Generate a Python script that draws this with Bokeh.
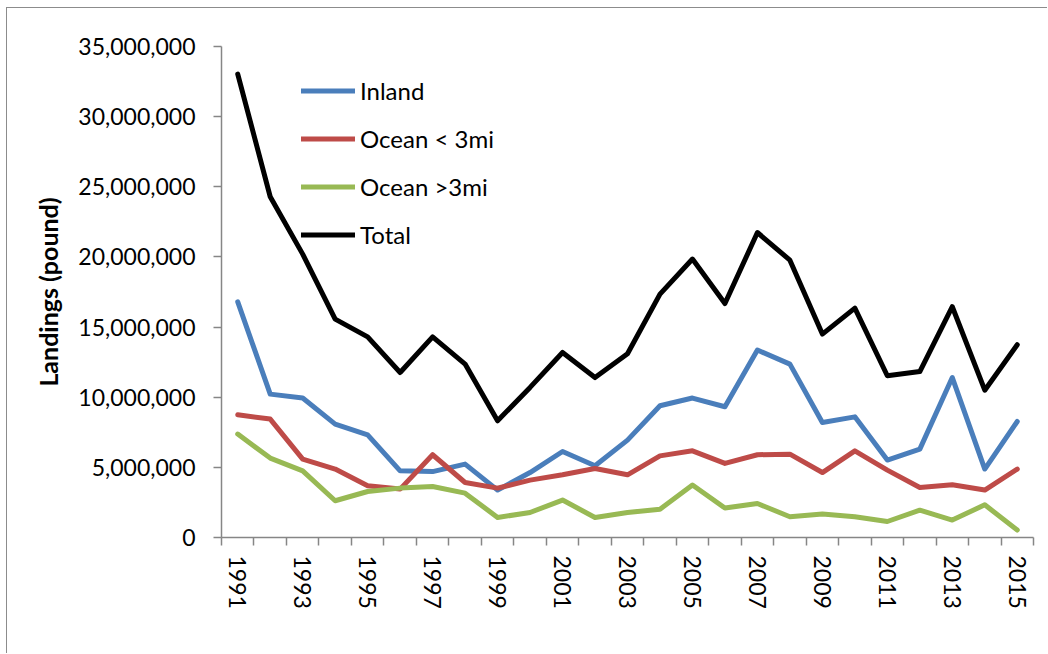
from bokeh.plotting import figure
from bokeh.models import Range1d, FixedTicker, NumeralTickFormatter, Legend, LegendItem
from bokeh.embed import file_html
from bokeh.resources import INLINE

years = list(range(1991, 2016))
inland = [16.8, 10.22, 9.94, 8.08, 7.32, 4.75, 4.70, 5.23, 3.38, 4.63, 6.13, 5.11, 6.94,
          9.39, 9.94, 9.32, 13.36, 12.36, 8.20, 8.60, 5.52, 6.30, 11.40, 4.88, 8.27]
ocean_lt3 = [8.75, 8.44, 5.59, 4.88, 3.69, 3.45, 5.90, 3.92, 3.52, 4.09, 4.47, 4.92, 4.47,
             5.82, 6.18, 5.28, 5.90, 5.94, 4.63, 6.18, 4.80, 3.56, 3.76, 3.38, 4.88]
ocean_gt3 = [7.37, 5.66, 4.75, 2.62, 3.28, 3.52, 3.64, 3.16, 1.43, 1.78, 2.67, 1.43, 1.78,
             2.02, 3.74, 2.10, 2.42, 1.48, 1.67, 1.48, 1.14, 1.95, 1.24, 2.33, 0.53]
total = [33.03, 24.29, 20.20, 15.57, 14.30, 11.76, 14.30, 12.36, 8.32, 10.70, 13.19, 11.40, 13.10,
         17.35, 19.85, 16.68, 21.74, 19.77, 14.50, 16.35, 11.53, 11.83, 16.45, 10.50, 13.74]
series_names = ["Inland", "Ocean < 3mi", "Ocean >3mi", "Total"]
series_colors = ["#4A7EBB", "#BE4B48", "#98B954", "#000000"]
y_ticks = [0, 5e6, 10e6, 15e6, 20e6, 25e6, 30e6, 35e6]
x_label_years = list(range(1991, 2016, 2))

FONT = "Lato"
AX = "#868686"

p = figure(width=1041, height=646, output_backend="svg", toolbar_location=None,
           x_range=Range1d(years[0] - 0.5, years[-1] + 0.5), y_range=Range1d(0, 35e6),
           min_border_left=214, min_border_right=15, min_border_top=38, min_border_bottom=117)
p.styles = {"margin": "7px 0 0 6px", "border-top": "1px solid #8c8c8c",
            "border-left": "1px solid #8c8c8c"}
p.outline_line_color = None
p.xgrid.visible = False
p.ygrid.visible = False
p.background_fill_color = "white"
p.border_fill_color = "white"

renderers = []
for vals, color in zip([inland, ocean_lt3, ocean_gt3, total], series_colors):
    r = p.line(years, [v * 1e6 for v in vals], line_color=color, line_width=5,
               line_join="round", line_cap="round")
    renderers.append(r)

# y axis
ya = p.yaxis[0]
ya.ticker = FixedTicker(ticks=y_ticks, minor_ticks=[])
ya.formatter = NumeralTickFormatter(format="0,0")
ya.axis_line_color = AX
ya.axis_line_width = 1.5
ya.major_tick_line_color = AX
ya.major_tick_line_width = 1.5
ya.major_tick_out = 8
ya.major_tick_in = 0
ya.minor_tick_line_color = None
ya.major_label_text_font = FONT
ya.major_label_text_font_size = "23px"
ya.major_label_text_color = "#000000"
ya.major_label_standoff = 18
ya.axis_label = "Landings (pound)"
ya.axis_label_text_font = FONT
ya.axis_label_text_font_style = "bold"
ya.axis_label_text_font_size = "25px"
ya.axis_label_text_color = "#000000"
ya.axis_label_standoff = 12

# x axis
xa = p.xaxis[0]
xa.ticker = FixedTicker(ticks=x_label_years, minor_ticks=[y + 0.5 for y in range(1990, 2016)])
xa.axis_line_color = AX
xa.axis_line_width = 1.5
xa.major_tick_line_color = None
xa.major_tick_out = 0
xa.major_tick_in = 0
xa.minor_tick_line_color = AX
xa.minor_tick_line_width = 1.5
xa.minor_tick_out = 8
xa.minor_tick_in = 0
xa.major_label_orientation = "vertical"
xa.major_label_text_font = FONT
xa.major_label_text_font_size = "23px"
xa.major_label_text_color = "#000000"
xa.major_label_standoff = 10

legend = Legend(items=[LegendItem(label=n, renderers=[r]) for n, r in zip(series_names, renderers)],
                location=(80, 288), orientation="vertical")
legend.background_fill_alpha = 0
legend.border_line_color = None
legend.padding = 0
legend.margin = 0
legend.glyph_width = 54
legend.glyph_height = 29
legend.label_height = 29
legend.spacing = 19
legend.label_standoff = 5
legend.label_text_font = FONT
legend.label_text_font_size = "24px"
legend.label_text_color = "#000000"
p.add_layout(legend, "center")

open("out.html", "w").write(file_html(p, INLINE))
